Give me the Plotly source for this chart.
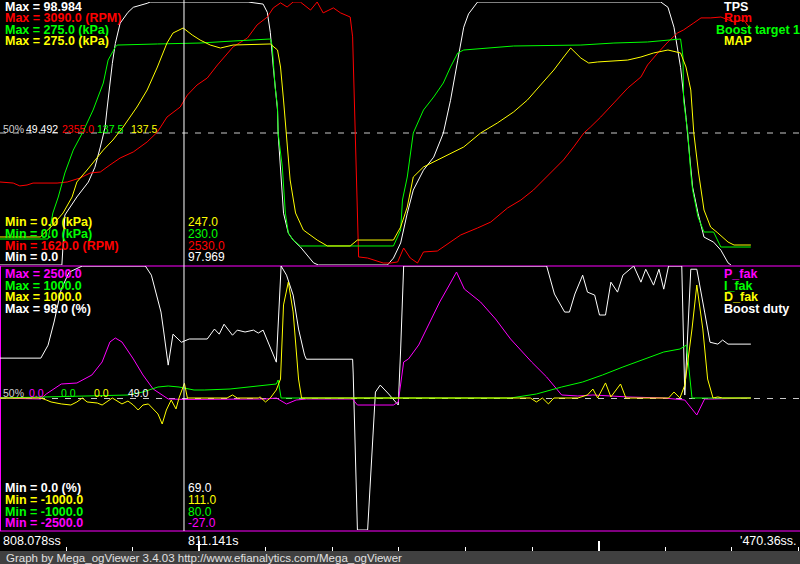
import plotly.graph_objects as go

W, H = 800, 564
T0 = 808.078          # time at left edge (s)
T_SPAN = 13.318       # visible time span (s)
CURSOR_T = 811.141    # cursor time (s)

# ---------------- channel definitions ----------------
top_names = ["TPS", "Rpm", "Boost target 1", "MAP"]
top_units = ["", "RPM", "kPa", "kPa"]
top_min = [0.0, 1620.0, 0.0, 0.0]
top_max = [98.984, 3090.0, 275.0, 275.0]
top_dec = [3, 1, 1, 1]
top_colors = ["#ffffff", "#ff0000", "#00ff00", "#ffff00"]
top_cursor = [97.969, 2530.0, 230.0, 247.0]

bot_names = ["P_fak", "I_fak", "D_fak", "Boost duty"]
bot_units = ["", "", "", "%"]
bot_min = [-2500.0, -1000.0, -1000.0, 0.0]
bot_max = [2500.0, 1000.0, 1000.0, 98.0]
bot_dec = [1, 1, 1, 1]
bot_colors = ["#ff00ff", "#00ff00", "#ffff00", "#ffffff"]
bot_cursor = [-27.0, 80.0, 111.0, 69.0]

# ---------------- logged data (time in s after T0) ----------------
tps_t = [0.00, 1.03, 1.08, 1.28, 1.47, 1.58, 1.67, 1.75, 1.78, 1.83, 1.87, 1.92, 2.00, 2.13, 2.22, 2.45, 2.50,
         4.13, 4.38, 4.45, 4.50, 4.55, 4.62, 4.63, 4.67, 4.72, 4.80, 4.88, 5.00, 5.22, 5.30, 6.45, 6.55, 6.67,
         6.78, 6.88, 7.05, 7.22, 7.38, 7.50, 7.62, 7.72, 7.80, 7.95, 11.00, 11.12, 11.22, 11.33, 11.42, 11.47,
         11.53, 11.62, 11.72, 11.88, 12.00, 12.12, 12.17]
tps_v = [0.0, 0.0, 18.8, 25.6, 31.2, 36.8, 44.4, 51.9, 58.3, 68.4, 75.9, 83.4, 91.0, 95.1, 97.0, 98.5, 98.98,
         98.98, 98.2, 95.1, 87.6, 74.4, 58.3, 49.6, 34.6, 19.5, 12.0, 9.4, 6.8, 0.8, 0.0, 0.0, 2.6, 8.3,
         19.5, 28.2, 35.7, 40.6, 49.6, 62.0, 77.1, 89.5, 94.5, 98.98, 98.98, 97.0, 89.5, 74.4, 55.6, 43.2,
         29.3, 19.5, 10.5, 8.6, 5.6, 0.8, 0.0]

rpm_t = [0.00, 0.22, 0.33, 0.45, 0.55, 0.95, 1.12, 1.33, 1.50, 1.67, 1.83, 2.00, 2.22, 2.45, 2.62, 2.78, 3.00,
         3.12, 3.28, 3.45, 3.62, 3.72, 3.88, 4.12, 4.28, 4.45, 4.55, 4.67, 4.78, 4.88, 5.00, 5.17, 5.28, 5.38,
         5.55, 5.67, 5.83, 5.87, 5.95, 5.97, 6.12, 6.38, 6.50, 6.62, 6.72, 6.83, 6.95, 7.05, 7.28, 7.38, 7.50,
         7.67, 7.95, 8.17, 8.45, 8.67, 8.88, 9.17, 9.38, 9.55, 9.72, 9.83, 10.00, 10.22, 10.45, 10.67, 10.78,
         10.95, 11.12, 11.28, 11.38, 11.55, 11.67, 11.83, 12.00, 12.22, 12.38, 12.47]
rpm_v = [2084, 2078, 2062, 2067, 2078, 2078, 2084, 2106, 2134, 2140, 2179, 2218, 2252, 2308, 2363, 2447, 2503,
         2570, 2626, 2665, 2738, 2777, 2839, 2889, 2962, 3006, 3057, 3085, 3062, 3090, 3090, 3045, 3090, 3029,
         3057, 3029, 3006, 2895, 1799, 1665, 1659, 1631, 1631, 1637, 1715, 1659, 1631, 1693, 1698, 1721, 1749,
         1788, 1827, 1860, 1939, 1983, 2039, 2134, 2207, 2280, 2358, 2391, 2447, 2526, 2609, 2671, 2738,
         2805, 2867, 2917, 2934, 2973, 3001, 3001, 3006, 2978, 2990, 2950]

bt_t = [0.00, 0.80, 0.88, 0.97, 1.08, 1.22, 1.38, 1.55, 1.72, 1.80, 1.92, 1.95, 2.62, 3.33, 3.88, 4.50, 4.53,
        4.55, 4.58, 4.62, 4.63, 4.70, 4.75, 4.80, 4.88, 5.00, 6.55, 6.67, 6.70, 6.78, 6.88, 7.05, 7.22, 7.38,
        7.50, 7.62, 7.72, 8.55, 9.67, 10.22, 10.78, 11.33, 11.37, 11.38, 11.45, 11.50, 11.53, 11.62, 11.72,
        11.88, 12.00, 12.50]
bt_v = [27.2, 27.2, 54.4, 71.1, 96.2, 120.2, 139.1, 162.1, 190.3, 214.3, 227.9, 230.0, 231.1, 232.1, 234.2,
        236.3, 230.0, 207.0, 186.1, 165.2, 138.0, 102.5, 54.4, 33.5, 26.1, 19.9, 19.9, 36.6, 68.0, 92.0,
        138.0, 162.1, 175.7, 190.3, 207.0, 221.7, 224.8, 229.0, 230.0, 232.1, 233.2, 236.3, 217.5, 172.5,
        138.0, 96.2, 78.4, 50.2, 34.5, 34.5, 18.8, 18.8]

map_t = [0.00, 0.67, 0.88, 1.05, 1.20, 1.28, 1.45, 1.58, 1.72, 1.88, 2.05, 2.28, 2.45, 2.62, 2.78, 2.88, 3.05,
         3.20, 3.33, 3.50, 3.67, 3.88, 4.50, 4.62, 4.67, 4.72, 4.78, 4.83, 4.92, 5.05, 5.28, 5.45, 5.83, 5.95,
         6.55, 6.67, 6.78, 6.88, 7.05, 7.22, 7.45, 7.72, 8.00, 8.28, 8.55, 8.78, 9.00, 9.22, 9.37, 9.50, 9.67,
         9.80, 9.95, 10.22, 10.45, 10.67, 10.88, 11.12, 11.33, 11.42, 11.50, 11.55, 11.63, 11.72, 11.83, 11.95,
         12.12, 12.22, 12.50]
map_v = [29.3, 29.3, 41.8, 54.4, 71.1, 86.8, 99.3, 109.8, 120.2, 130.7, 144.3, 165.2, 183.0, 207.0, 232.1,
         242.6, 247.8, 240.5, 235.3, 230.0, 226.9, 230.0, 231.1, 224.8, 207.0, 172.5, 130.7, 88.9, 54.4, 36.6,
         26.1, 19.9, 19.9, 26.1, 26.1, 39.7, 60.6, 92.0, 102.5, 107.7, 115.0, 123.4, 138.0, 148.5, 160.0,
         172.5, 188.2, 203.9, 216.4, 226.9, 216.4, 211.2, 212.3, 213.3, 214.3, 217.5, 221.7, 224.8, 221.7,
         207.0, 183.0, 138.0, 96.2, 57.5, 39.7, 33.5, 24.0, 20.9, 20.9]

duty_t = [0.00, 0.68, 0.80, 0.90, 1.02, 1.15, 1.37, 2.42, 2.52, 2.60, 2.68, 2.72, 2.77, 2.80, 2.88, 3.02, 3.15,
          3.45, 3.57, 3.65, 3.73, 3.87, 3.95, 4.08, 4.22, 4.30, 4.38, 4.60, 4.68, 4.77, 4.88, 4.97, 5.07, 5.10,
          5.87, 5.88, 5.95, 6.12, 6.25, 6.33, 6.47, 6.58, 6.63, 6.67, 6.72, 9.10, 9.23, 9.40, 9.48, 9.57, 9.70,
          9.78, 9.90, 9.98, 10.08, 10.17, 10.28, 10.37, 10.55, 10.67, 10.75, 10.88, 10.97, 11.05, 11.13, 11.35,
          11.40, 11.50, 11.60, 11.73, 11.82, 11.95, 12.03, 12.12, 12.50]
duty_v = [63.8, 63.8, 68.6, 77.2, 89.4, 95.7, 98.0, 98.0, 94.6, 87.2, 80.9, 74.6, 64.9, 61.2, 72.7, 69.7, 70.9,
          70.9, 74.6, 72.7, 76.4, 72.3, 74.2, 73.5, 74.2, 73.1, 74.2, 62.3, 98.0, 94.6, 87.2, 74.6, 64.9, 63.4,
          63.4, 57.9, 0.0, 0.0, 51.2, 53.8, 50.5, 47.5, 46.4, 67.2, 98.0, 98.0, 87.6, 80.9, 80.9, 87.6, 94.6,
          88.3, 87.2, 79.8, 79.8, 92.0, 88.3, 94.6, 98.0, 92.0, 96.8, 90.9, 96.8, 89.4, 98.0, 98.0,
          50.1, 96.8, 96.8, 80.9, 69.7, 69.0, 70.5, 69.0, 69.0]

p_t = [0.00, 0.68, 0.77, 1.02, 1.28, 1.53, 1.70, 1.83, 1.92, 2.03, 2.22, 2.38, 2.55, 2.80, 3.07, 4.42, 4.60,
       4.77, 4.93, 5.10, 5.87, 5.95, 6.55, 6.63, 6.72, 6.80, 6.97, 7.15, 7.32, 7.48, 7.60, 7.73, 8.00, 8.25,
       8.50, 8.85, 9.10, 9.35, 9.62, 9.87, 10.12, 10.47, 11.05, 11.40, 11.60, 11.73, 11.87, 12.50]
p_v = [0, -19, 76, 265, 284, 436, 682, 1061, 1136, 1061, 739, 436, 170, -19, -27, -19, 0,
       -114, -38, -19, -19, -133, -133, -76, 682, 739, 1004, 1439, 1818, 2140, 2386, 2064, 1818, 1496,
       1117, 682, 398, 57, 38, 57, 38, 19, 0, -38, -322, -19, -19, 0]

i_t = [0.00, 2.13, 2.38, 2.63, 2.80, 2.98, 3.23, 3.40, 3.83, 4.25, 4.60, 4.63, 4.68, 5.02, 8.50, 8.93, 9.35,
       9.70, 10.03, 10.37, 10.72, 11.05, 11.32, 11.43, 11.48, 11.52, 12.07, 12.50]
i_v = [0, 22.7, 45.5, 83.3, 90.9, 83.3, 60.6, 60.6, 68.2, 90.9, 106.1, 136.4, 0, 0, 0, 30.3, 83.3,
       121.2, 174.2, 234.9, 295.5, 348.5, 371.2, 401.5, 174.2, 0, 0, 0]

d_t = [0.00, 0.68, 0.77, 0.85, 1.02, 1.18, 1.28, 1.37, 1.45, 1.62, 1.70, 1.78, 1.87, 2.03, 2.13, 2.22, 2.30,
       2.38, 2.47, 2.55, 2.63, 2.70, 2.77, 2.85, 2.93, 2.98, 3.07, 3.12, 3.78, 3.87, 3.95, 4.30, 4.33, 4.42,
       4.50, 4.60, 4.67, 4.72, 4.80, 4.88, 4.97, 5.02, 8.83, 8.93, 9.03, 9.13, 9.22, 9.62, 9.78, 9.87, 9.95,
       10.08, 10.17, 10.33, 10.42, 11.13, 11.22, 11.32, 11.40, 11.52, 11.60, 11.70, 11.78, 11.87, 11.95,
       12.03, 12.50]
d_v = [0, 0, -15, -30, -45, -53, -30, 0, -30, -38, -53, -30, 0, -45, -23, -53, -91,
       -53, -45, -83, -121, -197, -91, -15, -83, 0, 111, 0, 0, 23, 0, 0, 8, -30,
       0, 61, 144, 705, 879, 652, 144, 0, 0, -30, 0, -45, 0, 0, 23, 68, 0,
       114, 8, 106, 0, 0, 45, 0, 98, 523, 856, 523, 144, 0, 8,
       0, 0]

top_series = [(tps_t, tps_v), (rpm_t, rpm_v), (bt_t, bt_v), (map_t, map_v)]
bot_series = [(p_t, p_v), (i_t, i_v), (d_t, d_v), (duty_t, duty_v)]

# time-axis labels
left_time_label = "808.078ss"
right_time_label = "'470.36ss."
footer_text = "Graph by Mega_ogViewer 3.4.03 http://www.efianalytics.com/Mega_ogViewer"

# ---------------- figure ----------------
FONT = "Liberation Sans, Arial, sans-serif"

def py(y):
    return 1 - y / H

top_dom = [py(265), py(2)]
bot_dom = [py(530), py(266)]

fig = go.Figure()

bot_axes = ["y6", "y7", "y8", "y5"]  # P, I, D overlay the duty axis
bot_order = [3, 0, 1, 2]
for k in bot_order:
    t, v = bot_series[k]
    fig.add_trace(go.Scatter(x=[T0 + a for a in t], y=v, mode="lines", yaxis=bot_axes[k],
                             line=dict(color=bot_colors[k], width=1), hoverinfo="skip"))

top_axes = ["y", "y2", "y3", "y4"]
for k in range(4):
    t, v = top_series[k]
    fig.add_trace(go.Scatter(x=[T0 + a for a in t], y=v, mode="lines", yaxis=top_axes[k],
                             line=dict(color=top_colors[k], width=1), hoverinfo="skip"))

major_tick0 = T0 + 3.317
layout = dict(
    width=W, height=H, margin=dict(l=0, r=0, t=0, b=0),
    paper_bgcolor="black", plot_bgcolor="black", showlegend=False,
    xaxis=dict(range=[T0, T0 + T_SPAN], domain=[0, 1], anchor="free", position=py(551.5),
               showgrid=False, zeroline=False, showline=False, showticklabels=False,
               ticks="inside", ticklen=11, tickwidth=2, tickcolor="white",
               tick0=major_tick0, dtick=6.65,
               minor=dict(ticks="inside", ticklen=5, tickwidth=1, tickcolor="white",
                          tick0=major_tick0, dtick=1.1083, showgrid=False)),
    yaxis=dict(domain=top_dom, range=[top_min[0], top_max[0]], visible=False),
    yaxis2=dict(overlaying="y", range=[top_min[1], top_max[1]], visible=False),
    yaxis3=dict(overlaying="y", range=[top_min[2], top_max[2]], visible=False),
    yaxis4=dict(overlaying="y", range=[top_min[3], top_max[3]], visible=False),
    yaxis5=dict(domain=bot_dom, range=[bot_min[3], bot_max[3]], visible=False),
    yaxis6=dict(overlaying="y5", range=[bot_min[0], bot_max[0]], visible=False),
    yaxis7=dict(overlaying="y5", range=[bot_min[1], bot_max[1]], visible=False),
    yaxis8=dict(overlaying="y5", range=[bot_min[2], bot_max[2]], visible=False),
)
fig.update_layout(**layout)

shapes = []
MAG = "#ff00ff"
shapes.append(dict(type="line", xref="paper", yref="paper", x0=0, x1=1, y0=py(266), y1=py(266),
                   line=dict(color=MAG, width=1), layer="below"))
shapes.append(dict(type="line", xref="paper", yref="paper", x0=0, x1=1, y0=py(531), y1=py(531),
                   line=dict(color=MAG, width=1), layer="below"))
shapes.append(dict(type="line", xref="paper", yref="paper", x0=0.5 / W, x1=0.5 / W, y0=py(531), y1=py(266),
                   line=dict(color=MAG, width=1), layer="below"))
for yy in (133, 398.5):
    shapes.append(dict(type="line", xref="paper", yref="paper", x0=0, x1=1, y0=py(yy), y1=py(yy),
                       line=dict(color="#c8c8c8", width=1, dash="6px,7px"), layer="below"))
shapes.append(dict(type="line", xref="x", yref="paper", x0=CURSOR_T, x1=CURSOR_T, y0=py(531), y1=1,
                   line=dict(color="white", width=1), layer="above"))
shapes.append(dict(type="rect", xref="paper", yref="paper", x0=0, x1=1, y0=0, y1=py(551),
                   fillcolor="#404040", line=dict(width=0), layer="above"))
fig.update_layout(shapes=shapes)

ann = []

def txt(x, y, text, color, size, bold=False, xanchor="left", family=FONT):
    ann.append(dict(x=x / W, y=py(y), xref="paper", yref="paper",
                    text=f"<b>{text}</b>" if bold else text, showarrow=False,
                    xanchor=xanchor, yanchor="middle", borderpad=0,
                    font=dict(color=color, size=size, family=family)))

def fmt(v, d):
    return f"{v:.{d}f}"

def unit_s(u):
    return f" ({u})" if u else ""

BOLD_SIZE = 12.5
VAL_SIZE = 12

top_rows = [7, 18.5, 30, 41.5]
legend_x_top = [723, 723, 715, 723]
for k in range(4):
    txt(4, top_rows[k], "Max = " + fmt(top_max[k], top_dec[k]) + unit_s(top_units[k]), top_colors[k], BOLD_SIZE, True)
    txt(legend_x_top[k], top_rows[k], top_names[k], top_colors[k], BOLD_SIZE, True)
min_rows_top = [222, 234, 245.5, 257]
for r, k in enumerate([3, 2, 1, 0]):
    txt(4, min_rows_top[r], "Min = " + fmt(top_min[k], top_dec[k] if k else 1) + unit_s(top_units[k]),
        top_colors[k], BOLD_SIZE, True)
    txt(187, min_rows_top[r], fmt(top_cursor[k], top_dec[k]), top_colors[k], VAL_SIZE)
txt(2, 129, "50%", "#d0d0d0", 10.5)
mid_x_top = [25, 61, 96, 130]
for k in range(4):
    txt(mid_x_top[k], 129, fmt((top_min[k] + top_max[k]) / 2, top_dec[k]), top_colors[k], 10.5)

bot_rows = [274, 285.5, 297, 308.5]
for k in range(4):
    txt(4, bot_rows[k], "Max = " + fmt(bot_max[k], bot_dec[k]) + unit_s(bot_units[k]), bot_colors[k], BOLD_SIZE, True)
    txt(723, bot_rows[k], bot_names[k], bot_colors[k], BOLD_SIZE, True)
min_rows_bot = [488, 500, 512, 523]
for r, k in enumerate([3, 2, 1, 0]):
    txt(4, min_rows_bot[r], "Min = " + fmt(bot_min[k], bot_dec[k]) + unit_s(bot_units[k]), bot_colors[k], BOLD_SIZE, True)
    txt(187, min_rows_bot[r], fmt(bot_cursor[k], bot_dec[k]), bot_colors[k], VAL_SIZE)
txt(2, 393, "50%", "#d0d0d0", 10.5)
mid_x_bot = [28, 60, 93, 127]
for k in range(4):
    txt(mid_x_bot[k], 393, fmt((bot_min[k] + bot_max[k]) / 2, bot_dec[k]), bot_colors[k], 10.5)

txt(2, 541, left_time_label, "white", 12.5)
txt(187, 541, f"{CURSOR_T:.3f}s", "white", 12.5)
txt(798, 541, right_time_label, "white", 12.5, xanchor="right")
txt(5, 557.5, footer_text, "#e0e0e0", 11.5)

fig.update_layout(annotations=ann)
fig.write_html("out.html", config={"displayModeBar": False},
               post_script="document.body.style.margin='0';document.body.style.overflow='hidden';")
